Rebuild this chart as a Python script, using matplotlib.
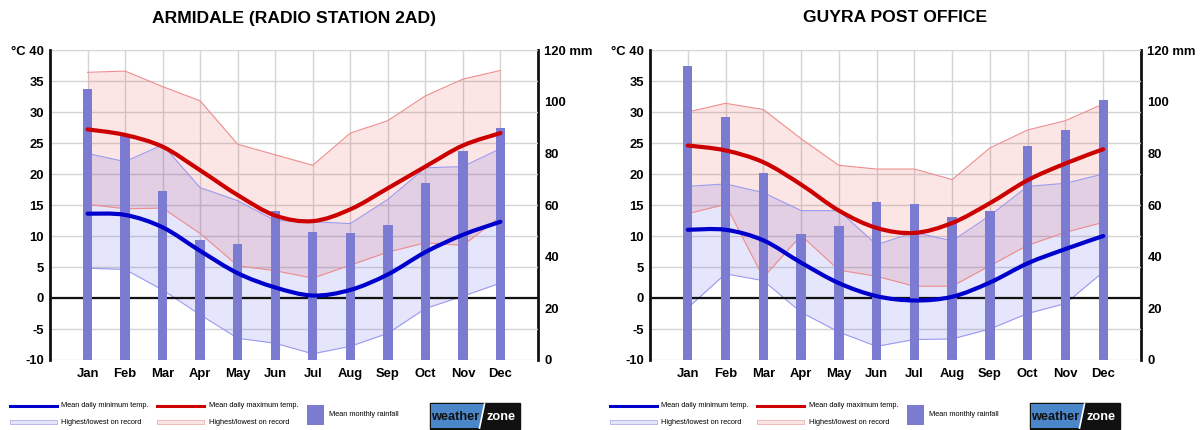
import numpy as np
import matplotlib
matplotlib.use('Agg')
import matplotlib.pyplot as plt
from matplotlib.path import Path
from matplotlib.patches import PathPatch, Rectangle, Polygon
from matplotlib.lines import Line2D

plt.rcParams['font.family'] = ['Liberation Sans', 'DejaVu Sans']

months = ['Jan', 'Feb', 'Mar', 'Apr', 'May', 'Jun', 'Jul', 'Aug', 'Sep', 'Oct', 'Nov', 'Dec']

# Armidale (Radio Station 2AD)
arm_title = 'ARMIDALE (RADIO STATION 2AD)'
arm_rain = [105, 87, 65.5, 46.5, 45, 57.5, 49.5, 49, 52.3, 68.4, 81, 89.7]
arm_max = [27.2, 26.3, 24.4, 20.6, 16.6, 13.3, 12.4, 14.3, 17.7, 21.2, 24.6, 26.6]
arm_min = [13.6, 13.4, 11.4, 7.6, 4.0, 1.7, 0.4, 1.3, 3.8, 7.4, 10.2, 12.3]
arm_max_hi = [36.4, 36.6, 34.1, 31.8, 24.8, 23.1, 21.4, 26.6, 28.6, 32.6, 35.3, 36.7]
arm_max_lo = [15.1, 14.4, 14.5, 10.4, 5.2, 4.4, 3.2, 5.3, 7.4, 8.9, 8.5, 13.1]
arm_min_hi = [23.3, 22.0, 24.7, 17.8, 15.7, 12.5, 12.3, 12.0, 15.9, 21.0, 21.2, 24.1]
arm_min_lo = [4.8, 4.6, 1.3, -2.7, -6.5, -7.3, -9.0, -7.8, -5.7, -1.7, 0.3, 2.4]

# Guyra Post Office
guy_title = 'GUYRA POST OFFICE'
guy_rain = [114, 94, 72.5, 48.7, 52, 61.3, 60.4, 55.5, 57.7, 82.8, 89, 100.6]
guy_max = [24.6, 23.8, 21.9, 18.3, 14.1, 11.3, 10.5, 12.1, 15.3, 19.0, 21.7, 24.0]
guy_min = [11.0, 11.0, 9.3, 5.7, 2.4, 0.3, -0.4, 0.2, 2.5, 5.6, 7.9, 10.0]
guy_max_hi = [30.0, 31.4, 30.4, 25.7, 21.4, 20.8, 20.8, 19.1, 24.2, 27.1, 28.6, 31.3]
guy_max_lo = [13.6, 15.1, 3.3, 10.1, 4.5, 3.5, 1.9, 1.9, 5.2, 8.5, 10.6, 12.2]
guy_min_hi = [18.0, 18.4, 17.0, 14.1, 14.1, 8.6, 10.6, 9.2, 13.3, 18.0, 18.5, 20.0]
guy_min_lo = [-1.6, 3.9, 2.8, -2.3, -5.5, -7.8, -6.7, -6.6, -5.0, -2.5, -0.9, 4.2]

W, H = 1204, 430
RED = '#cc0000'
BLUE = '#0000cc'
BAR = '#7b7bd2'


def mm_to_c(v):
    return np.asarray(v) / 2.4 - 10


def c_to_mm(v):
    return (np.asarray(v) + 10) * 2.4


def smooth_path(x, y):
    # catmull-rom through the monthly means, drawn as bezier segments
    pts = np.column_stack([x, y]).astype(float)
    verts = [pts[0]]
    codes = [Path.MOVETO]
    n = len(pts)
    for i in range(n - 1):
        p0 = pts[i - 1] if i > 0 else pts[i]
        p1, p2 = pts[i], pts[i + 1]
        p3 = pts[i + 2] if i + 2 < n else pts[i + 1]
        verts += [p1 + (p2 - p0) / 6, p2 - (p3 - p1) / 6, p2]
        codes += [Path.CURVE4] * 3
    return Path(verts, codes)


def panel(fig, left_px, right_px, title, rain, tmax, tmin, max_hi, max_lo, min_hi, min_lo):
    top_px, bot_px = 50, 360
    ax = fig.add_axes([left_px / W, 1 - bot_px / H, (right_px - left_px) / W, (bot_px - top_px) / H])
    x = np.arange(12)
    ax.set_xlim(-1, 12)
    ax.set_ylim(-10, 40)

    ax.set_yticks(np.arange(-10, 41, 5))
    ax.set_yticklabels([str(v) for v in range(-10, 40, 5)] + ['°C 40'])
    ax.set_xticks(x)
    ax.set_xticklabels(months)
    for lab in ax.get_xticklabels() + ax.get_yticklabels():
        lab.set_fontweight('bold')
        lab.set_fontsize(9.4)
    ax.tick_params(axis='both', length=0)
    ax.tick_params(axis='y', pad=4.5)
    ax.tick_params(axis='x', pad=5.5)

    ax.grid(True, color='#d4d4d4', lw=1.0, zorder=0)
    ax.set_axisbelow(True)
    for s in ['top', 'bottom', 'right']:
        ax.spines[s].set_visible(False)
    ax.spines['left'].set_linewidth(2.0)
    ax.spines['left'].set_color('#111111')

    # record bands
    ax.fill_between(x, max_lo, max_hi, color='#e23030', alpha=0.12, lw=0, zorder=1)
    ax.plot(x, max_hi, color='#ee8c8c', lw=0.8, zorder=1.2)
    ax.plot(x, max_lo, color='#ee8c8c', lw=0.8, zorder=1.2)
    ax.fill_between(x, min_lo, min_hi, color='#3030e0', alpha=0.12, lw=0, zorder=1.1)
    ax.plot(x, min_hi, color='#9a9af0', lw=0.8, zorder=1.2)
    ax.plot(x, min_lo, color='#9a9af0', lw=0.8, zorder=1.2)

    ax.axhline(0, color='#111111', lw=1.6, zorder=2)

    # rainfall bars on the mm scale
    ax.bar(x, mm_to_c(rain) + 10, bottom=-10, width=0.25, color=BAR, zorder=3)

    ax.add_patch(PathPatch(smooth_path(x, tmax), fill=False, edgecolor=RED, lw=3.0,
                           capstyle='round', zorder=4))
    ax.add_patch(PathPatch(smooth_path(x, tmin), fill=False, edgecolor=BLUE, lw=3.0,
                           capstyle='round', zorder=4))

    sec = ax.secondary_yaxis('right', functions=(c_to_mm, mm_to_c))
    sec.set_yticks(np.arange(0, 121, 20))
    sec.set_yticklabels([str(v) for v in range(0, 120, 20)] + ['120 mm'])
    for lab in sec.get_yticklabels():
        lab.set_fontweight('bold')
        lab.set_fontsize(9.4)
    sec.tick_params(length=0, pad=4.5)
    sec.spines['right'].set_linewidth(2.0)
    sec.spines['right'].set_color('#111111')

    fig.text((left_px + right_px) / 2 / W, 1 - 18 / H, title, ha='center', va='center',
             fontsize=12.6, fontweight='bold')
    return ax


def legend(lax, ox):
    fs = 5.3
    lax.add_line(Line2D([ox + 10, ox + 57], [405.5, 405.5], color=BLUE, lw=2.2))
    lax.text(ox + 61, 405.5, 'Mean daily minimum temp.', fontsize=fs, va='center')
    lax.add_patch(Rectangle((ox + 10, 420), 47, 4, facecolor='#e4e4fb', edgecolor='#b0b0f0', lw=0.6))
    lax.text(ox + 61, 422, 'Highest/lowest on record', fontsize=fs, va='center')

    lax.add_line(Line2D([ox + 157, ox + 204], [405.5, 405.5], color=RED, lw=2.2))
    lax.text(ox + 209, 405.5, 'Mean daily maximum temp.', fontsize=fs, va='center')
    lax.add_patch(Rectangle((ox + 157, 420), 47, 4, facecolor='#fbe4e4', edgecolor='#f0b0b0', lw=0.6))
    lax.text(ox + 209, 422, 'Highest/lowest on record', fontsize=fs, va='center')

    lax.add_patch(Rectangle((ox + 307, 405), 17, 20, facecolor=BAR, edgecolor='none'))
    lax.text(ox + 329, 414, 'Mean monthly rainfall', fontsize=fs, va='center')

    # weatherzone logo
    lax.add_patch(Rectangle((ox + 430, 403), 90, 26, facecolor='#111111', edgecolor='#111111', lw=1))
    lax.add_patch(Polygon([(ox + 431, 404), (ox + 484, 404), (ox + 479, 428), (ox + 431, 428)],
                          closed=True, facecolor='#4a86c8', edgecolor='none'))
    lax.add_line(Line2D([ox + 484.5, ox + 479.5], [404, 428], color='white', lw=1.2))
    lax.text(ox + 455.5, 416.5, 'weather', fontsize=9.2, fontweight='bold', color='#111111',
             ha='center', va='center')
    lax.text(ox + 501, 416.5, 'zone', fontsize=9.2, fontweight='bold', color='white',
             ha='center', va='center')


fig = plt.figure(figsize=(W / 100, H / 100), dpi=100)
panel(fig, 50, 538, arm_title, arm_rain, arm_max, arm_min, arm_max_hi, arm_max_lo, arm_min_hi, arm_min_lo)
panel(fig, 650, 1141, guy_title, guy_rain, guy_max, guy_min, guy_max_hi, guy_max_lo, guy_min_hi, guy_min_lo)

lax = fig.add_axes([0, 0, 1, 1])
lax.set_xlim(0, W)
lax.set_ylim(H, 0)
lax.axis('off')
legend(lax, 0)
legend(lax, 600)

fig.savefig('out.png', dpi=100)
